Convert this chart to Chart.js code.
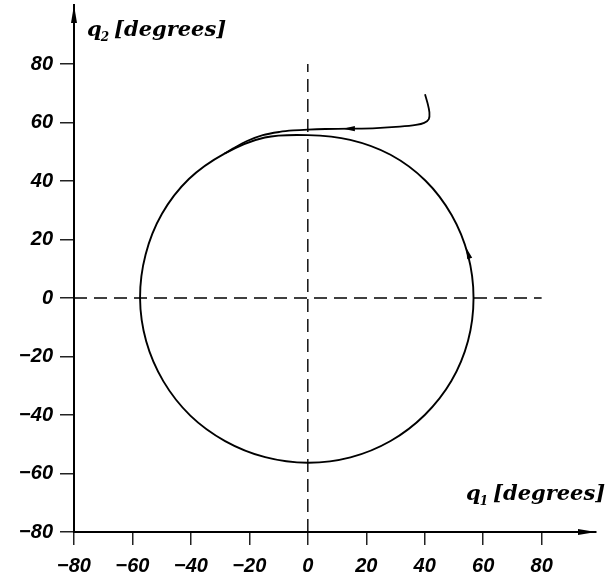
<!DOCTYPE html>
<html>
<head>
<meta charset="utf-8">
<script src="https://cdn.jsdelivr.net/npm/chart.js@4/dist/chart.umd.min.js"></script>
<style>
  html, body { margin: 0; padding: 0; background: #fff; }
  #wrap { width: 605px; height: 581px; }
</style>
</head>
<body>
<div id="wrap"><canvas id="c" width="605" height="581"></canvas></div>
<script>
// Limit cycle in the (q1, q2) joint-angle plane, degrees
// (first and last points are guide points so the closed loop joins smoothly)
const cycleQ1 = [54.8, 56.7, 54.8, 49.2, 40.2, 28.3, 14.5, 0.0, -14.7, -28.5, -40.7, -49.9, -55.5, -57.4,
                 -55.3, -49.4, -40.2, -28.3, -14.6, 0.0, 14.6, 28.3, 40.0, 49.1, 54.8, 56.7, 54.8];
const cycleQ2 = [-14.7, 0.0, 14.7, 28.4, 40.2, 49.0, 54.1, 55.7, 54.9, 49.4, 40.7, 28.8, 14.9, 0.0,
                 -14.8, -28.5, -40.2, -48.9, -54.4, -56.3, -54.5, -48.9, -40.0, -28.4, -14.7, 0.0, 14.7];

// Transient from the initial condition onto the cycle
const pathQ1 = [40.1, 41.0, 41.6, 41.4, 39.8, 37.0, 31.5, 23.5, 14.5, 6.0, 0.0, -5.0, -9.6, -15.4, -21.0, -25.5, -28.5];
const pathQ2 = [69.7, 66.5, 63.5, 61.2, 59.9, 59.2, 58.6, 58.1, 57.9, 57.8, 57.6, 57.3, 56.8, 55.7, 53.6, 51.2, 49.4];

// Direction markers: [tail, tip] in (q1, q2)
const flowArrows = [
  [[16.0, 57.9], [12.0, 57.9]],
  [[55.4, 13.5], [54.1, 17.4]]
];

const xTicks = [-80, -60, -40, -20, 0, 20, 40, 60, 80];
const yTicks = [-80, -60, -40, -20, 0, 20, 40, 60, 80];

const toPts = (xs, ys) => xs.map((x, i) => ({ x: x, y: ys[i] }));
const minus = v => (v < 0 ? '\u2212' + Math.abs(v) : String(v));
const lastCycleSeg = cycleQ1.length - 2;

const tickFont = { family: '"Liberation Sans", Arial, sans-serif', size: 20, weight: 'bold', style: 'italic' };

function arrowHead(ctx, x0, y0, x1, y1, len, half) {
  const a = Math.atan2(y1 - y0, x1 - x0);
  ctx.save();
  ctx.translate(x1, y1);
  ctx.rotate(a);
  ctx.beginPath();
  ctx.moveTo(0, 0);
  ctx.lineTo(-len, -half);
  ctx.lineTo(-len, half);
  ctx.closePath();
  ctx.fill();
  ctx.restore();
}

function axisTitle(ctx, x, y, sub) {
  ctx.save();
  ctx.fillStyle = '#000';
  ctx.textBaseline = 'alphabetic';
  ctx.textAlign = 'left';
  ctx.font = 'italic bold 21px "DejaVu Serif", serif';
  ctx.fillText('q', x, y);
  let w = ctx.measureText('q').width;
  ctx.font = 'italic bold 12px "DejaVu Serif", serif';
  ctx.fillText(sub, x + w - 1, y + 5);
  w += ctx.measureText(sub).width + 4;
  ctx.font = 'italic bold 21px "DejaVu Serif", serif';
  ctx.fillText('[degrees]', x + w, y);
  ctx.restore();
}

const overlay = {
  id: 'overlay',
  afterDraw(chart) {
    const ctx = chart.ctx;
    const xs = chart.scales.x, ys = chart.scales.y;
    const a = chart.chartArea;
    ctx.save();
    ctx.fillStyle = '#000';
    // axis arrow heads
    arrowHead(ctx, a.left, a.top + 30, a.left, a.top, 18, 3);
    arrowHead(ctx, a.right - 30, a.bottom, a.right, a.bottom, 18, 3);
    // flow direction on the trajectory
    flowArrows.forEach(([t, h]) => {
      arrowHead(ctx, xs.getPixelForValue(t[0]), ys.getPixelForValue(t[1]),
                xs.getPixelForValue(h[0]), ys.getPixelForValue(h[1]), 12, 2.6);
    });
    ctx.restore();
    axisTitle(ctx, 87, 36, '2');
    axisTitle(ctx, 466, 500, '1');
  }
};

new Chart(document.getElementById('c'), {
  type: 'scatter',
  data: {
    datasets: [
      { data: [{ x: 0, y: -80 }, { x: 0, y: 80 }], showLine: true, borderColor: '#000',
        borderWidth: 1.4, borderDash: [13, 7], pointRadius: 0 },
      { data: [{ x: -80, y: 0 }, { x: 80, y: 0 }], showLine: true, borderColor: '#000',
        borderWidth: 1.4, borderDash: [13, 7], pointRadius: 0 },
      { data: toPts(cycleQ1, cycleQ2), showLine: true, borderColor: '#000', borderWidth: 1.9,
        tension: 0.34, pointRadius: 0,
        segment: {
          borderColor: c => (c.p0DataIndex === 0 || c.p0DataIndex === lastCycleSeg) ? 'rgba(0,0,0,0)' : '#000'
        } },
      { data: toPts(pathQ1, pathQ2), showLine: true, borderColor: '#000', borderWidth: 1.8,
        tension: 0.3, pointRadius: 0 }
    ]
  },
  options: {
    responsive: false,
    animation: false,
    events: [],
    layout: { padding: { top: 5, right: 9, left: 0, bottom: 0 } },
    plugins: { legend: { display: false }, tooltip: { enabled: false } },
    scales: {
      x: {
        type: 'linear', min: -80, max: 98.6,
        afterBuildTicks: s => { s.ticks = xTicks.map(v => ({ value: v })); },
        afterFit: s => { s.height = 49; s.paddingLeft = 0; s.paddingRight = 0; },
        border: { display: true, color: '#000', width: 2 },
        grid: { drawOnChartArea: false, drawTicks: true, tickLength: 13, color: '#222', lineWidth: 1.5 },
        ticks: { color: '#000', font: tickFont, padding: 9, maxRotation: 0, autoSkip: false, callback: minus }
      },
      y: {
        type: 'linear', min: -80, max: 100.2,
        afterBuildTicks: s => { s.ticks = yTicks.map(v => ({ value: v })); },
        afterFit: s => { s.width = 74; s.paddingTop = 0; s.paddingBottom = 0; },
        border: { display: true, color: '#000', width: 2 },
        grid: { drawOnChartArea: false, drawTicks: true, tickLength: 14, color: '#222', lineWidth: 1.5 },
        ticks: { color: '#000', font: tickFont, padding: 7, autoSkip: false, callback: minus }
      }
    }
  },
  plugins: [overlay]
});
</script>
</body>
</html>
